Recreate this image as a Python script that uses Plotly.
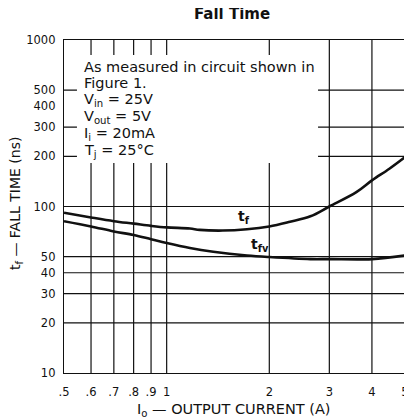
import math
import plotly.graph_objects as go

# ---- data ----
current_tf = [0.5, 0.6, 0.7, 0.8, 0.9, 1.0, 1.17, 1.25, 1.46, 1.72, 2.0, 2.3, 2.64, 3.0, 3.6, 4.0, 4.5, 5.0]
fall_tf = [91.7, 85.9, 81.6, 78.9, 76.5, 74.9, 73.8, 72.4, 71.7, 73.0, 75.9, 81.0, 87.3, 100, 121.9, 143.4, 168.7, 198]

current_tfv = [0.5, 0.6, 0.7, 0.8, 0.9, 1.0, 1.17, 1.37, 1.72, 2.0, 2.64, 3.0, 4.0, 5.0]
fall_tfv = [81.6, 75.9, 70.8, 67.5, 63.6, 60.3, 56.3, 53.5, 50.8, 49.7, 48.3, 48.3, 48.3, 50.8]

x_ticks = [0.5, 0.6, 0.7, 0.8, 0.9, 1, 2, 3, 4, 5]
x_tick_labels = [".5", ".6", ".7", ".8", ".9", "1", "2", "3", "4", "5"]
x_grid = [0.6, 0.7, 0.8, 0.9, 1, 2, 3, 4]

y_ticks = [10, 20, 30, 40, 50, 100, 200, 300, 400, 500, 1000]
y_tick_labels = ["10", "20", "30", "40", "50", "100", "200", "300", "400", "500", "1000"]
y_grid = [20, 30, 40, 50, 100, 200, 300, 500]

conditions = ["As measured in circuit shown in",
              "Figure 1.",
              "V<sub>in</sub> = 25V",
              "V<sub>out</sub> = 5V",
              "I<sub>i</sub> = 20mA",
              "T<sub>j</sub> = 25°C"]

FONT = "DejaVu Sans, Liberation Sans, Arial, sans-serif"
INK = "#111111"

fig = go.Figure()
fig.add_trace(go.Scatter(x=current_tf, y=fall_tf, mode="lines", line=dict(color=INK, width=2.6, shape="spline"),
                         showlegend=False, hoverinfo="skip"))
fig.add_trace(go.Scatter(x=current_tfv, y=fall_tfv, mode="lines", line=dict(color=INK, width=2.6, shape="spline"),
                         showlegend=False, hoverinfo="skip"))

shapes = []
for gx in x_grid:
    shapes.append(dict(type="line", xref="x", yref="paper", x0=gx, x1=gx, y0=0, y1=1,
                       line=dict(color=INK, width=1.2), layer="below"))
for gy in y_grid:
    shapes.append(dict(type="line", xref="paper", yref="y", x0=0, x1=1, y0=gy, y1=gy,
                       line=dict(color=INK, width=1.2), layer="below"))
# white panel behind the conditions text
shapes.append(dict(type="rect", xref="paper", yref="paper", x0=0.038, x1=0.745, y0=0.631, y1=0.955,
                   fillcolor="white", line=dict(width=0), layer="below"))

annotations = []
for i, t in enumerate(conditions):
    annotations.append(dict(xref="paper", yref="paper", x=0.052, y=0.92 - i * 0.0505, xanchor="left", yanchor="middle",
                            text=t, showarrow=False, font=dict(family=FONT, size=14.5, color=INK)))
annotations.append(dict(xref="paper", yref="paper", x=(244 - 64) / 341, y=(373 - 217) / 333,
                        text="<b>t<sub>f</sub></b>", showarrow=False, font=dict(family=FONT, size=14, color=INK)))
annotations.append(dict(xref="paper", yref="paper", x=(260 - 64) / 341, y=(373 - 245) / 333,
                        text="<b>t<sub>fv</sub></b>", showarrow=False, font=dict(family=FONT, size=14, color=INK)))
# axis titles
annotations.append(dict(xref="paper", yref="paper", x=(233.5 - 64) / 341, y=-(410 - 373) / 333,
                        xanchor="center", yanchor="middle",
                        text="I<sub>o</sub> — OUTPUT CURRENT (A)", showarrow=False,
                        font=dict(family=FONT, size=14.5, color=INK)))
annotations.append(dict(xref="paper", yref="paper", x=-(64 - 16) / 341, y=(373 - 203) / 333,
                        xanchor="center", yanchor="middle",
                        textangle=-90, text="t<sub>f</sub> — FALL TIME (ns)", showarrow=False,
                        font=dict(family=FONT, size=14, color=INK)))

x_lo, x_hi = math.log10(0.5) - 1e-4, math.log10(5) + 1e-4

# the page body adds an 8px offset, so the figure is 8px smaller than the window
W, H = 404, 411
fig.update_layout(
    width=W, height=H,
    margin=dict(l=56, r=7, t=32, b=46, autoexpand=False),
    paper_bgcolor="white", plot_bgcolor="white",
    title=dict(text="<b>Fall Time</b>", x=(232 - 8) / W, xanchor="center", y=1 - (14 - 8) / H, yanchor="middle",
               font=dict(family=FONT, size=15, color=INK)),
    font=dict(family=FONT, size=11, color=INK),
    shapes=shapes,
    annotations=annotations,
    xaxis=dict(type="log", range=[x_lo, x_hi], tickvals=x_ticks, ticktext=x_tick_labels, automargin=False,
               showgrid=False, zeroline=False, showline=True, linecolor=INK, linewidth=1.4, mirror=True,
               ticks="", ticklabelstandoff=8, tickfont=dict(size=11.5), ticklabeloverflow="allow"),
    yaxis=dict(type="log", range=[1, 3], tickvals=y_ticks, ticktext=y_tick_labels, automargin=False,
               showgrid=False, zeroline=False, showline=True, linecolor=INK, linewidth=1.4, mirror=True,
               ticks="", ticklabelstandoff=5, tickfont=dict(size=11.5), ticklabeloverflow="allow"),
)

fig.write_html("out.html")
